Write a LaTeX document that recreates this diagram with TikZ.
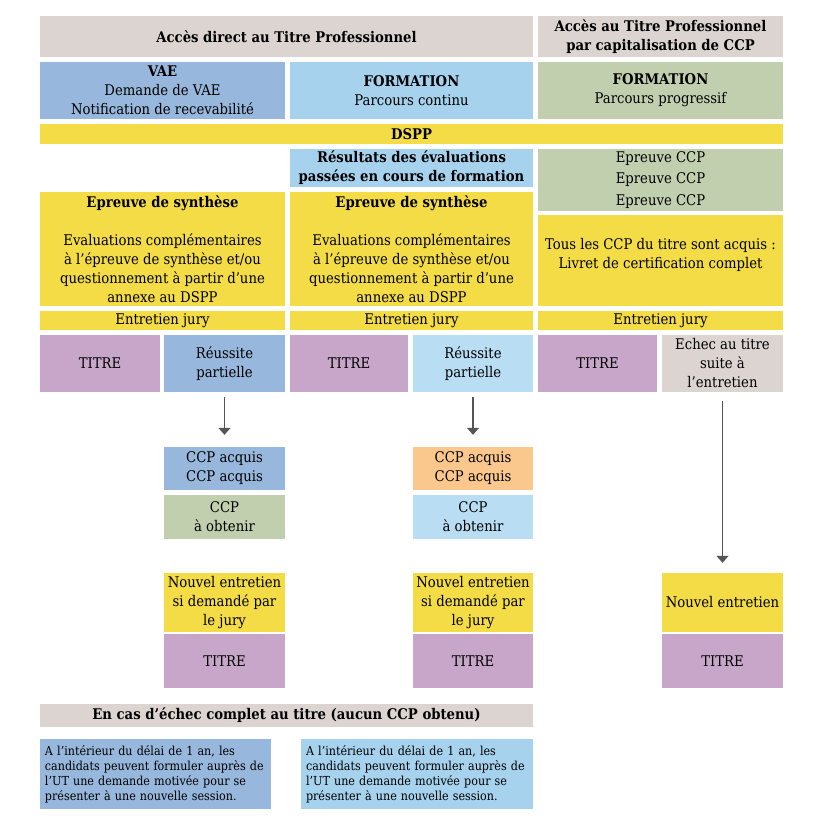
\documentclass[tikz,border=0pt]{standalone}
\usepackage{fontspec}
\setmainfont{DejaVu Serif Condensed}
\usetikzlibrary{arrows.meta}

\definecolor{hdrgrey}{HTML}{DCD4D1}
\definecolor{vaeblue}{HTML}{97B8DC}
\definecolor{formblue}{HTML}{A6D2EE}
\definecolor{paleblue}{HTML}{B9DDF3}
\definecolor{sage}{HTML}{C2CFAE}
\definecolor{jaune}{HTML}{F3DC46}
\definecolor{mauve}{HTML}{C8A6CA}
\definecolor{peach}{HTML}{FAC78C}
\definecolor{arrowgrey}{HTML}{555555}

\newcommand\cellfont{\fontsize{14.7}{19}\selectfont}
\newcommand\notefont{\fontsize{12.4}{15}\selectfont}

% a filled cell given by its corners (x1,y1) (x2,y2)
\newcommand\cellbox[7]{%
  \node[cell,#6,minimum width={(#4-#2)*1pt},minimum height={(#5-#3)*1pt}]
    (#1) at ({(#2+#4)/2},{(#3+#5)/2}) {#7};}
% a left-aligned note cell
\newcommand\notebox[7]{%
  \node[cell,#6,align=left,inner xsep=5pt,font=\notefont,
    text width={(#4-#2-10)*1pt},minimum height={(#5-#3)*1pt}]
    (#1) at ({(#2+#4)/2},{(#3+#5)/2}) {#7};}

\tikzset{
  cell/.style={draw=none,inner sep=0pt,align=center,font=\cellfont,text=black},
  arr/.style={draw=arrowgrey,line width=1.5pt,-{Triangle[width=12pt,length=7pt]}}
}

\begin{document}
\begin{tikzpicture}[x=1pt,y=-1pt]
\useasboundingbox[fill=white] (0,0) rectangle (820,823);

% headers
\cellbox{hA}{40}{16}{533}{57}{fill=hdrgrey}{\textbf{Accès direct au Titre Professionnel}}
\cellbox{hB}{538}{16}{783}{57}{fill=hdrgrey}{\textbf{Accès au Titre Professionnel}\\\textbf{par capitalisation de CCP}}

% access routes
\cellbox{vae}{40}{62}{285}{119}{fill=vaeblue}{\textbf{VAE}\\Demande de VAE\\Notification de recevabilité}
\cellbox{fc}{290}{62}{533}{119}{fill=formblue}{\textbf{FORMATION}\\Parcours continu}
\cellbox{fp}{538}{62}{783}{119}{fill=sage}{\textbf{FORMATION}\\Parcours progressif}

\cellbox{dspp}{40}{124}{783}{144}{fill=jaune}{\textbf{DSPP}}

% evaluations
\cellbox{res}{290}{149}{533}{187}{fill=formblue}{\textbf{Résultats des évaluations}\\\textbf{passées en cours de formation}}
\node[cell,fill=sage,minimum width=245pt,minimum height=62pt,font=\fontsize{14.7}{21.5}\selectfont]
  (ccp) at (660.5,180) {Epreuve CCP\\Epreuve CCP\\Epreuve CCP};

\cellbox{synA}{40}{192}{285}{306}{fill=jaune}{\textbf{Epreuve de synthèse}\\[19pt]Evaluations complémentaires\\à l’épreuve de synthèse et/ou\\questionnement à partir d’une\\annexe au DSPP}
\cellbox{synB}{290}{192}{533}{306}{fill=jaune}{\textbf{Epreuve de synthèse}\\[19pt]Evaluations complémentaires\\à l’épreuve de synthèse et/ou\\questionnement à partir d’une\\annexe au DSPP}
\cellbox{tous}{538}{215}{783}{306}{fill=jaune,text depth=14pt}{Tous les CCP du titre sont acquis :\\Livret de certification complet}

% jury
\cellbox{jA}{40}{311}{285}{330}{fill=jaune}{Entretien jury}
\cellbox{jB}{290}{311}{533}{330}{fill=jaune}{Entretien jury}
\cellbox{jC}{538}{311}{783}{330}{fill=jaune}{Entretien jury}

% outcomes
\cellbox{tA}{40}{335}{160}{392}{fill=mauve}{TITRE}
\cellbox{rA}{164}{335}{285}{392}{fill=vaeblue}{Réussite\\partielle}
\cellbox{tB}{290}{335}{408}{392}{fill=mauve}{TITRE}
\cellbox{rB}{413}{335}{533}{392}{fill=paleblue}{Réussite\\partielle}
\cellbox{tC}{538}{335}{657}{392}{fill=mauve}{TITRE}
\cellbox{eC}{662}{335}{783}{392}{fill=hdrgrey}{Echec au titre\\suite à\\l’entretien}

% partial success follow-up
\cellbox{aA}{164}{447}{285}{490}{fill=vaeblue}{CCP acquis\\CCP acquis}
\cellbox{oA}{164}{495}{285}{539}{fill=sage}{CCP\\à obtenir}
\cellbox{nA}{164}{573}{285}{632}{fill=jaune}{Nouvel entretien\\si demandé par\\le jury}
\cellbox{fA}{164}{634}{285}{688}{fill=mauve}{TITRE}

\cellbox{aB}{413}{447}{533}{490}{fill=peach}{CCP acquis\\CCP acquis}
\cellbox{oB}{413}{495}{533}{539}{fill=paleblue}{CCP\\à obtenir}
\cellbox{nB}{413}{573}{533}{632}{fill=jaune}{Nouvel entretien\\si demandé par\\le jury}
\cellbox{fB}{413}{634}{533}{688}{fill=mauve}{TITRE}

\cellbox{nC}{662}{573}{783}{632}{fill=jaune}{Nouvel entretien}
\cellbox{fC}{662}{634}{783}{688}{fill=mauve}{TITRE}

% arrows
\draw[arr] ([yshift=-5pt]rA.south) -- ([yshift=12pt]aA.north);
\draw[arr] ([yshift=-5pt]rB.south) -- ([yshift=12pt]aB.north);
\draw[arr] ([yshift=-9pt]eC.south) -- ([yshift=10pt]nC.north);

% complete failure
\cellbox{echec}{40}{704}{533}{727}{fill=hdrgrey}{\textbf{En cas d’échec complet au titre (aucun CCP obtenu)}}
\notebox{noteA}{40}{739}{271}{809}{fill=vaeblue}{A l’intérieur du délai de 1 an, les\\candidats peuvent formuler auprès de\\l’UT une demande motivée pour se\\présenter à une nouvelle session.}
\notebox{noteB}{301}{739}{533}{809}{fill=formblue}{A l’intérieur du délai de 1 an, les\\candidats peuvent formuler auprès de\\l’UT une demande motivée pour se\\présenter à une nouvelle session.}
\end{tikzpicture}
\end{document}
